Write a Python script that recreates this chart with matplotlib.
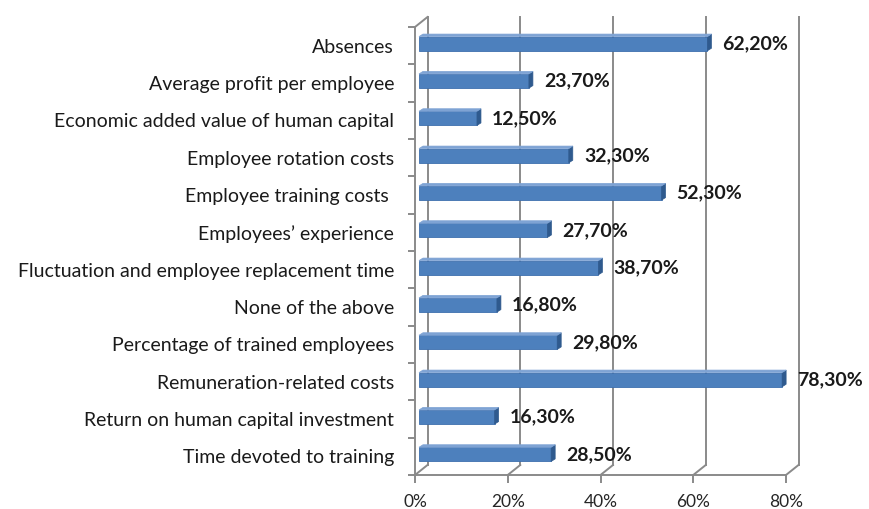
import numpy as np
import matplotlib.pyplot as plt
from matplotlib.patches import Polygon
from matplotlib.lines import Line2D

categories = ['Absences',
              'Average profit per employee',
              'Economic added value of human capital',
              'Employee rotation costs',
              'Employee training costs ',
              'Employees\u2019 experience',
              'Fluctuation and employee replacement time',
              'None of the above',
              'Percentage of trained employees',
              'Remuneration-related costs',
              'Return on human capital investment',
              'Time devoted to training']
values = [62.2, 23.7, 12.5, 32.3, 52.3, 27.7, 38.7, 16.8, 29.8, 78.3, 16.3, 28.5]
xticks = [0, 20, 40, 60, 80]

plt.rcParams['font.family'] = ['Lato', 'DejaVu Sans']

W, H = 869, 509
fig = plt.figure(figsize=(W / 100, H / 100), dpi=100)
# front plane of the 3d box: x 415..786 px, y 27..475 px from top
ax = fig.add_axes([415 / W, (H - 475) / H, 371 / W, 448 / H])
n = len(categories)
ax.set_xlim(0, 80)
ax.set_ylim(n - 0.5, -0.5)

grid_c = '#8a8a8a'
grid_lw = 1.4
wall_dx, wall_dy = 12.5, 10      # depth of the box, pixels
bar_off = (4, 2)                 # bar front face offset in pixels
bar_dx, bar_dy = 4, 2.5          # bar depth in pixels


def shift(x, y, dx, dy):
    X, Y = ax.transData.transform((x, y))
    return ax.transData.inverted().transform((X + dx, Y + dy))


# back wall gridlines + floor diagonals
for v in xticks:
    bx, btop = shift(v, -0.5, wall_dx, wall_dy)
    _, bbot = shift(v, n - 0.5, wall_dx, wall_dy)
    ax.add_line(Line2D([bx, bx], [btop, bbot], color=grid_c, lw=grid_lw, clip_on=False))
    ax.add_line(Line2D([v, bx], [n - 0.5, bbot], color=grid_c, lw=grid_lw, clip_on=False))
# left wall top diagonal
bx, btop = shift(0, -0.5, wall_dx, wall_dy)
ax.add_line(Line2D([0, bx], [-0.5, btop], color=grid_c, lw=grid_lw, clip_on=False))

# bars
h = 0.38
ys = np.arange(n)
x0, _ = shift(0, 0, bar_off[0], 0)
_, yoff = shift(0, 0, 0, bar_off[1])
ax.barh(ys + yoff, values, height=h, left=x0, color='#4d80bd',
        edgecolor='#3d6fae', linewidth=0.6, zorder=3, clip_on=False)
for y, v in zip(ys + yoff, values):
    xe = x0 + v
    top = y - h / 2
    bot = y + h / 2
    p1 = shift(xe, top, bar_dx, bar_dy)
    p2 = shift(xe, bot, bar_dx, bar_dy)
    p3 = shift(x0, top, bar_dx, bar_dy)
    ax.add_patch(Polygon([(xe, top), (xe, bot), p2, p1], closed=True,
                         facecolor='#2f5a8e', edgecolor='#2f5a8e', lw=0.5,
                         zorder=4, clip_on=False))
    ax.add_patch(Polygon([(x0, top), (xe, top), p1, p3], closed=True,
                         facecolor='#7ea3d4', edgecolor='#7ea3d4', lw=0.5,
                         zorder=4, clip_on=False))
    label = f'{v:.2f}'.replace('.', ',') + '%'
    ax.annotate(label, xy=(p1[0], y), xytext=(8, 0), textcoords='offset points',
                ha='left', va='center', fontsize=14, fontweight='bold',
                color='#1a1a1a', annotation_clip=False)

# axes styling
for s in ['top', 'right']:
    ax.spines[s].set_visible(False)
for s in ['left', 'bottom']:
    ax.spines[s].set_color(grid_c)
    ax.spines[s].set_linewidth(grid_lw)
    ax.spines[s].set_zorder(2)

ax.set_xticks(xticks)
ax.set_xticklabels([f'{t}%' for t in xticks])
ax.set_yticks(ys)
ax.set_yticklabels(categories)
ax.set_yticks(np.arange(n + 1) - 0.5, minor=True)
ax.tick_params(axis='y', which='major', length=0, pad=15, labelsize=14,
               labelcolor='#1a1a1a')
ax.tick_params(axis='y', which='minor', length=5, width=grid_lw, color=grid_c)
ax.tick_params(axis='x', length=6, width=grid_lw, color=grid_c, pad=8,
               labelsize=12.5, labelcolor='#262626')
ax.set_facecolor('none')

fig.savefig('out.png', dpi=100)
